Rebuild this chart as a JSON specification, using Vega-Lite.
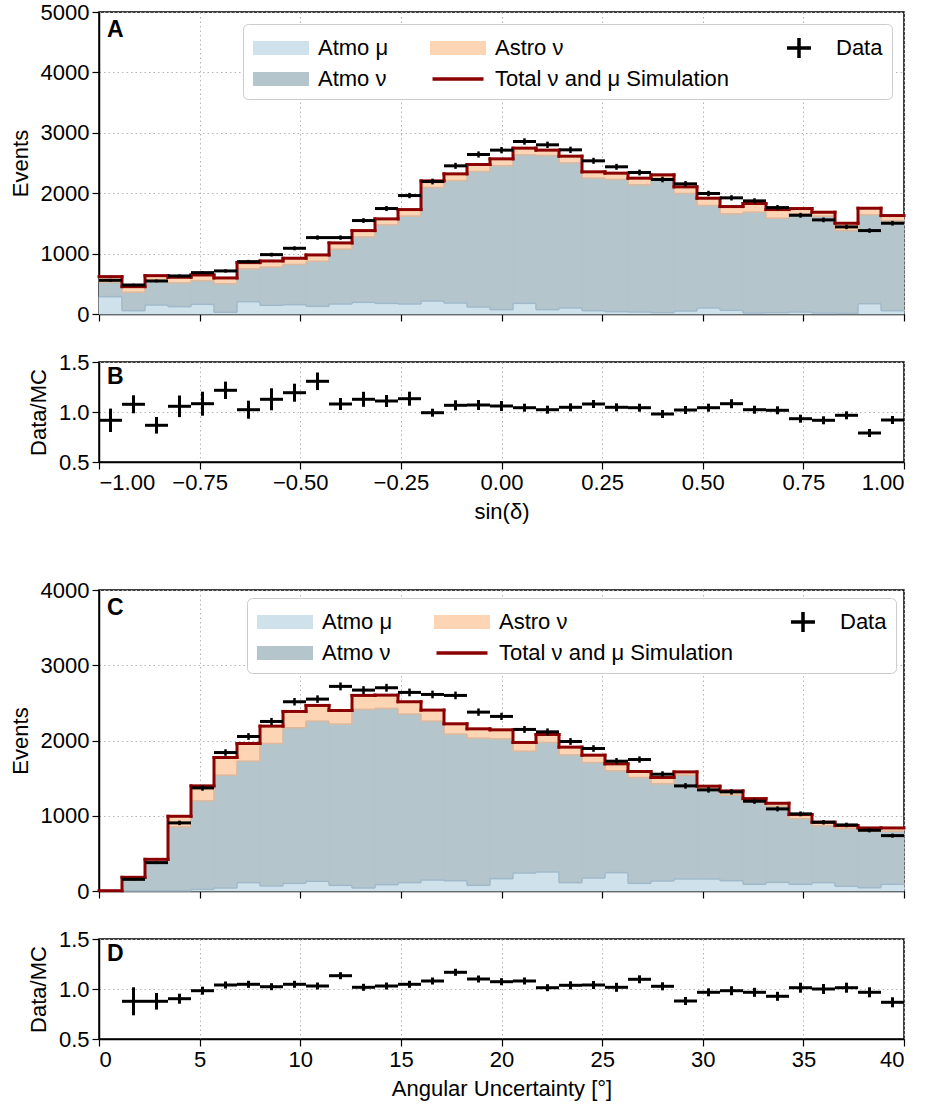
{
"$schema": "https://vega.github.io/schema/vega-lite/v6.json",
"padding": {"left": 8, "top": 0, "right": 5, "bottom": 5},
"config": {
 "font": "Liberation Sans",
 "view": {"stroke": "black", "strokeWidth": 1.5},
 "axis": {"labelFontSize": 22, "titleFontSize": 22, "titleFontWeight": "normal", "labelColor": "black", "titleColor": "black", "domainColor": "black", "tickColor": "black", "tickSize": 7, "tickWidth": 1.2, "domainWidth": 1.5, "gridColor": "#b5b5b5", "gridDash": [1.5, 3], "gridWidth": 1, "labelPadding": 3, "titlePadding": 8, "grid": true}
},
"datasets": {
 "legendItems": [{"series": "Atmo μ"}, {"series": "Atmo ν"}, {"series": "Astro ν"}, {"series": "Total ν and μ Simulation"}, {"series": "Data"}],
 "panelA": [{"label": "A", "x": -1, "y": 5000}],
 "panelB": [{"label": "B", "x": -1, "y": 1.5}],
 "panelC": [{"label": "C", "x": 0, "y": 4000}],
 "panelD": [{"label": "D", "x": 0, "y": 1.5}],
 "sindec": [
  {"lo": -1, "hi": -0.9429, "c": -0.9714, "mu": 287, "atmo": 525, "tot": 619, "d": 558, "de": 24, "r": 0.917, "re": 0.117},
  {"lo": -0.9429, "hi": -0.8857, "c": -0.9143, "mu": 55, "atmo": 359, "tot": 453, "d": 480, "de": 22, "r": 1.077, "re": 0.09},
  {"lo": -0.8857, "hi": -0.8286, "c": -0.8571, "mu": 149, "atmo": 540, "tot": 635, "d": 547, "de": 23, "r": 0.867, "re": 0.083},
  {"lo": -0.8286, "hi": -0.7714, "c": -0.8, "mu": 122, "atmo": 515, "tot": 608, "d": 630, "de": 25, "r": 1.057, "re": 0.108},
  {"lo": -0.7714, "hi": -0.7143, "c": -0.7429, "mu": 160, "atmo": 550, "tot": 646, "d": 685, "de": 26, "r": 1.083, "re": 0.12},
  {"lo": -0.7143, "hi": -0.6571, "c": -0.6857, "mu": 28, "atmo": 500, "tot": 597, "d": 713, "de": 27, "r": 1.217, "re": 0.087},
  {"lo": -0.6571, "hi": -0.6, "c": -0.6286, "mu": 204, "atmo": 746, "tot": 851, "d": 867, "de": 29, "r": 1.023, "re": 0.09},
  {"lo": -0.6, "hi": -0.5429, "c": -0.5714, "mu": 144, "atmo": 775, "tot": 878, "d": 983, "de": 31, "r": 1.127, "re": 0.11},
  {"lo": -0.5429, "hi": -0.4857, "c": -0.5143, "mu": 155, "atmo": 820, "tot": 923, "d": 1088, "de": 33, "r": 1.193, "re": 0.09},
  {"lo": -0.4857, "hi": -0.4286, "c": -0.4571, "mu": 127, "atmo": 873, "tot": 978, "d": 1265, "de": 36, "r": 1.307, "re": 0.088},
  {"lo": -0.4286, "hi": -0.3714, "c": -0.4, "mu": 166, "atmo": 1072, "tot": 1177, "d": 1265, "de": 36, "r": 1.08, "re": 0.06},
  {"lo": -0.3714, "hi": -0.3143, "c": -0.3429, "mu": 193, "atmo": 1276, "tot": 1381, "d": 1547, "de": 39, "r": 1.127, "re": 0.075},
  {"lo": -0.3143, "hi": -0.2571, "c": -0.2857, "mu": 177, "atmo": 1475, "tot": 1575, "d": 1746, "de": 42, "r": 1.11, "re": 0.06},
  {"lo": -0.2571, "hi": -0.2, "c": -0.2286, "mu": 166, "atmo": 1620, "tot": 1729, "d": 1961, "de": 44, "r": 1.133, "re": 0.07},
  {"lo": -0.2, "hi": -0.1429, "c": -0.1714, "mu": 215, "atmo": 2094, "tot": 2204, "d": 2193, "de": 47, "r": 0.993, "re": 0.04},
  {"lo": -0.1429, "hi": -0.0857, "c": -0.1143, "mu": 182, "atmo": 2210, "tot": 2320, "d": 2453, "de": 50, "r": 1.067, "re": 0.05},
  {"lo": -0.0857, "hi": -0.0286, "c": -0.0571, "mu": 116, "atmo": 2359, "tot": 2475, "d": 2641, "de": 51, "r": 1.07, "re": 0.05},
  {"lo": -0.0286, "hi": 0.0286, "c": 0, "mu": 72, "atmo": 2455, "tot": 2569, "d": 2713, "de": 52, "r": 1.06, "re": 0.05},
  {"lo": 0.0286, "hi": 0.0857, "c": 0.0571, "mu": 177, "atmo": 2635, "tot": 2746, "d": 2856, "de": 53, "r": 1.043, "re": 0.04},
  {"lo": 0.0857, "hi": 0.1429, "c": 0.1143, "mu": 72, "atmo": 2624, "tot": 2713, "d": 2801, "de": 53, "r": 1.023, "re": 0.04},
  {"lo": 0.1429, "hi": 0.2, "c": 0.1714, "mu": 100, "atmo": 2503, "tot": 2613, "d": 2718, "de": 52, "r": 1.047, "re": 0.04},
  {"lo": 0.2, "hi": 0.2571, "c": 0.2286, "mu": 55, "atmo": 2249, "tot": 2354, "d": 2536, "de": 50, "r": 1.08, "re": 0.04},
  {"lo": 0.2571, "hi": 0.3143, "c": 0.2857, "mu": 39, "atmo": 2227, "tot": 2332, "d": 2437, "de": 49, "r": 1.047, "re": 0.04},
  {"lo": 0.3143, "hi": 0.3714, "c": 0.3429, "mu": 33, "atmo": 2138, "tot": 2249, "d": 2343, "de": 48, "r": 1.043, "re": 0.04},
  {"lo": 0.3714, "hi": 0.4286, "c": 0.4, "mu": 22, "atmo": 2238, "tot": 2304, "d": 2227, "de": 47, "r": 0.98, "re": 0.04},
  {"lo": 0.4286, "hi": 0.4857, "c": 0.4571, "mu": 50, "atmo": 1995, "tot": 2105, "d": 2155, "de": 46, "r": 1.02, "re": 0.04},
  {"lo": 0.4857, "hi": 0.5429, "c": 0.5143, "mu": 100, "atmo": 1796, "tot": 1917, "d": 1995, "de": 45, "r": 1.043, "re": 0.04},
  {"lo": 0.5429, "hi": 0.6, "c": 0.5714, "mu": 61, "atmo": 1658, "tot": 1779, "d": 1923, "de": 44, "r": 1.083, "re": 0.045},
  {"lo": 0.6, "hi": 0.6571, "c": 0.6286, "mu": 17, "atmo": 1685, "tot": 1829, "d": 1873, "de": 43, "r": 1.023, "re": 0.04},
  {"lo": 0.6571, "hi": 0.7143, "c": 0.6857, "mu": 22, "atmo": 1586, "tot": 1729, "d": 1762, "de": 42, "r": 1.017, "re": 0.04},
  {"lo": 0.7143, "hi": 0.7714, "c": 0.7429, "mu": 33, "atmo": 1658, "tot": 1746, "d": 1635, "de": 40, "r": 0.933, "re": 0.04},
  {"lo": 0.7714, "hi": 0.8286, "c": 0.8, "mu": 17, "atmo": 1619, "tot": 1685, "d": 1558, "de": 39, "r": 0.917, "re": 0.04},
  {"lo": 0.8286, "hi": 0.8857, "c": 0.8571, "mu": 11, "atmo": 1381, "tot": 1503, "d": 1442, "de": 38, "r": 0.967, "re": 0.04},
  {"lo": 0.8857, "hi": 0.9429, "c": 0.9143, "mu": 171, "atmo": 1641, "tot": 1751, "d": 1381, "de": 37, "r": 0.79, "re": 0.04},
  {"lo": 0.9429, "hi": 1, "c": 0.9714, "mu": 55, "atmo": 1541, "tot": 1630, "d": 1503, "de": 39, "r": 0.92, "re": 0.04}
 ],
 "angerr": [
  {"lo": 0, "hi": 1.1429, "c": 0.5714, "mu": 0, "atmo": 0, "tot": 4},
  {"lo": 1.1429, "hi": 2.2857, "c": 1.7143, "mu": 4, "atmo": 150, "tot": 182, "d": 155, "de": 12, "r": 0.877, "re": 0.14},
  {"lo": 2.2857, "hi": 3.4286, "c": 2.8571, "mu": 4, "atmo": 386, "tot": 421, "d": 377, "de": 19, "r": 0.877, "re": 0.083},
  {"lo": 3.4286, "hi": 4.5714, "c": 4, "mu": 4, "atmo": 851, "tot": 993, "d": 905, "de": 30, "r": 0.903, "re": 0.05},
  {"lo": 4.5714, "hi": 5.7143, "c": 5.1429, "mu": 22, "atmo": 1197, "tot": 1397, "d": 1370, "de": 37, "r": 0.983, "re": 0.04},
  {"lo": 5.7143, "hi": 6.8571, "c": 6.2857, "mu": 40, "atmo": 1539, "tot": 1774, "d": 1840, "de": 43, "r": 1.04, "re": 0.035},
  {"lo": 6.8571, "hi": 8, "c": 7.4286, "mu": 111, "atmo": 1725, "tot": 1960, "d": 2053, "de": 45, "r": 1.047, "re": 0.035},
  {"lo": 8, "hi": 9.1429, "c": 8.5714, "mu": 67, "atmo": 1960, "tot": 2191, "d": 2253, "de": 47, "r": 1.023, "re": 0.035},
  {"lo": 9.1429, "hi": 10.2857, "c": 9.7143, "mu": 102, "atmo": 2169, "tot": 2386, "d": 2515, "de": 50, "r": 1.047, "re": 0.035},
  {"lo": 10.2857, "hi": 11.4286, "c": 10.8571, "mu": 129, "atmo": 2257, "tot": 2466, "d": 2550, "de": 50, "r": 1.03, "re": 0.035},
  {"lo": 11.4286, "hi": 12.5714, "c": 12, "mu": 75, "atmo": 2217, "tot": 2399, "d": 2719, "de": 52, "r": 1.133, "re": 0.035},
  {"lo": 12.5714, "hi": 13.7143, "c": 13.1429, "mu": 40, "atmo": 2413, "tot": 2599, "d": 2670, "de": 52, "r": 1.017, "re": 0.035},
  {"lo": 13.7143, "hi": 14.8571, "c": 14.2857, "mu": 84, "atmo": 2426, "tot": 2603, "d": 2701, "de": 52, "r": 1.03, "re": 0.035},
  {"lo": 14.8571, "hi": 16, "c": 15.4286, "mu": 111, "atmo": 2351, "tot": 2515, "d": 2639, "de": 51, "r": 1.047, "re": 0.035},
  {"lo": 16, "hi": 17.1429, "c": 16.5714, "mu": 146, "atmo": 2257, "tot": 2404, "d": 2612, "de": 51, "r": 1.08, "re": 0.035},
  {"lo": 17.1429, "hi": 18.2857, "c": 17.7143, "mu": 137, "atmo": 2084, "tot": 2222, "d": 2599, "de": 51, "r": 1.167, "re": 0.035},
  {"lo": 18.2857, "hi": 19.4286, "c": 18.8571, "mu": 75, "atmo": 2031, "tot": 2155, "d": 2377, "de": 49, "r": 1.1, "re": 0.035},
  {"lo": 19.4286, "hi": 20.5714, "c": 20, "mu": 164, "atmo": 2022, "tot": 2142, "d": 2320, "de": 48, "r": 1.073, "re": 0.035},
  {"lo": 20.5714, "hi": 21.7143, "c": 21.1429, "mu": 239, "atmo": 1858, "tot": 1974, "d": 2147, "de": 46, "r": 1.08, "re": 0.035},
  {"lo": 21.7143, "hi": 22.8571, "c": 22.2857, "mu": 253, "atmo": 1974, "tot": 2080, "d": 2115, "de": 46, "r": 1.013, "re": 0.035},
  {"lo": 22.8571, "hi": 24, "c": 23.4286, "mu": 111, "atmo": 1809, "tot": 1912, "d": 1987, "de": 45, "r": 1.037, "re": 0.04},
  {"lo": 24, "hi": 25.1429, "c": 24.5714, "mu": 173, "atmo": 1707, "tot": 1805, "d": 1894, "de": 44, "r": 1.04, "re": 0.04},
  {"lo": 25.1429, "hi": 26.2857, "c": 25.7143, "mu": 244, "atmo": 1597, "tot": 1690, "d": 1725, "de": 42, "r": 1.017, "re": 0.045},
  {"lo": 26.2857, "hi": 27.4286, "c": 26.8571, "mu": 102, "atmo": 1508, "tot": 1588, "d": 1747, "de": 42, "r": 1.097, "re": 0.04},
  {"lo": 27.4286, "hi": 28.5714, "c": 28, "mu": 133, "atmo": 1424, "tot": 1508, "d": 1552, "de": 39, "r": 1.027, "re": 0.04},
  {"lo": 28.5714, "hi": 29.7143, "c": 29.1429, "mu": 160, "atmo": 1539, "tot": 1583, "d": 1397, "de": 37, "r": 0.88, "re": 0.04},
  {"lo": 29.7143, "hi": 30.8571, "c": 30.2857, "mu": 160, "atmo": 1362, "tot": 1393, "d": 1344, "de": 37, "r": 0.967, "re": 0.04},
  {"lo": 30.8571, "hi": 32, "c": 31.4286, "mu": 137, "atmo": 1273, "tot": 1330, "d": 1317, "de": 36, "r": 0.983, "re": 0.045},
  {"lo": 32, "hi": 33.1429, "c": 32.5714, "mu": 89, "atmo": 1180, "tot": 1228, "d": 1193, "de": 35, "r": 0.967, "re": 0.045},
  {"lo": 33.1429, "hi": 34.2857, "c": 33.7143, "mu": 115, "atmo": 1126, "tot": 1166, "d": 1091, "de": 33, "r": 0.927, "re": 0.045},
  {"lo": 34.2857, "hi": 35.4286, "c": 34.8571, "mu": 89, "atmo": 962, "tot": 1016, "d": 1025, "de": 32, "r": 1.013, "re": 0.05},
  {"lo": 35.4286, "hi": 36.5714, "c": 36, "mu": 111, "atmo": 865, "tot": 914, "d": 914, "de": 30, "r": 1.0, "re": 0.05},
  {"lo": 36.5714, "hi": 37.7143, "c": 37.1429, "mu": 62, "atmo": 829, "tot": 869, "d": 878, "de": 30, "r": 1.013, "re": 0.05},
  {"lo": 37.7143, "hi": 38.8571, "c": 38.2857, "mu": 44, "atmo": 794, "tot": 838, "d": 807, "de": 28, "r": 0.967, "re": 0.05},
  {"lo": 38.8571, "hi": 40, "c": 39.4286, "mu": 89, "atmo": 794, "tot": 838, "d": 736, "de": 27, "r": 0.867, "re": 0.05}
 ]
},
"spacing": 48,
"bounds": "flush",
"resolve": {"scale": {"x": "independent", "y": "independent", "color": "independent", "shape": "independent"}, "legend": {"color": "independent", "shape": "independent"}, "axis": {"x": "independent", "y": "independent"}},
"vconcat": [
 {
  "width": 805, "height": 302,
  "data": {"name": "sindec"},
  "encoding": {"x": {"field": "lo", "type": "quantitative", "scale": {"domain": [-1, 1], "nice": false, "zero": false}, "axis": {"values": [-1, -0.75, -0.5, -0.25, 0, 0.25, 0.5, 0.75, 1], "labels": false, "title": null}}},
  "layer": [
   {"mark": {"type": "rect", "color": "#fdd4b4", "stroke": "#fdd4b4", "strokeWidth": 0.6}, "encoding": {"x2": {"field": "hi"}, "y": {"field": "atmo", "type": "quantitative", "scale": {"domain": [0, 5000], "nice": false}, "axis": {"values": [0, 1000, 2000, 3000, 4000, 5000], "format": "d", "title": "Events"}}, "y2": {"field": "tot"}}},
   {"mark": {"type": "rect", "color": "#b5c5cc", "stroke": "#b5c5cc", "strokeWidth": 0.6}, "encoding": {"x2": {"field": "hi"}, "y": {"field": "atmo", "type": "quantitative"}, "y2": {"datum": 0}}},
   {"mark": {"type": "rect", "color": "#cfe2ec", "stroke": "#cfe2ec", "strokeWidth": 0.6}, "encoding": {"x2": {"field": "hi"}, "y": {"field": "mu", "type": "quantitative"}, "y2": {"datum": 0}}},
   {"mark": {"type": "rule", "color": "#9fb9c9", "strokeWidth": 1.5}, "encoding": {"x2": {"field": "hi"}, "y": {"field": "mu", "type": "quantitative"}}},
   {"transform": [{"window": [{"op": "lag", "field": "mu", "as": "pmu"}], "sort": [{"field": "lo"}]}, {"filter": "isValid(datum.pmu)"}], "mark": {"type": "rule", "color": "#9fb9c9", "strokeWidth": 1.5}, "encoding": {"y": {"field": "pmu", "type": "quantitative"}, "y2": {"field": "mu"}}},
   {"mark": {"type": "rule", "color": "#dcb89c", "strokeWidth": 1.5}, "encoding": {"x2": {"field": "hi"}, "y": {"field": "atmo", "type": "quantitative"}}},
   {"transform": [{"window": [{"op": "lag", "field": "atmo", "as": "patmo"}], "sort": [{"field": "lo"}]}, {"filter": "isValid(datum.patmo)"}], "mark": {"type": "rule", "color": "#dcb89c", "strokeWidth": 1.5}, "encoding": {"y": {"field": "patmo", "type": "quantitative"}, "y2": {"field": "atmo"}}},
   {"mark": {"type": "rule", "color": "#8b0000", "strokeWidth": 3, "strokeCap": "square"}, "encoding": {"x2": {"field": "hi"}, "y": {"field": "tot", "type": "quantitative"}}},
   {"transform": [{"window": [{"op": "lag", "field": "tot", "as": "ptot"}], "sort": [{"field": "lo"}]}, {"filter": "isValid(datum.ptot)"}], "mark": {"type": "rule", "color": "#8b0000", "strokeWidth": 3, "strokeCap": "square"}, "encoding": {"y": {"field": "ptot", "type": "quantitative"}, "y2": {"field": "tot"}}},
   {"mark": {"type": "rule", "color": "black", "strokeWidth": 3}, "encoding": {"x2": {"field": "hi"}, "y": {"field": "d", "type": "quantitative"}}},
   {"mark": {"type": "errorbar", "ticks": false, "thickness": 2.5, "color": "black"}, "encoding": {"x": {"field": "c", "type": "quantitative"}, "y": {"field": "d", "type": "quantitative", "title": "Events"}, "yError": {"field": "de"}}},
   {"data": {"name": "legendItems"}, "mark": {"type": "point", "filled": true, "opacity": 1},
    "encoding": {
     "color": {"field": "series", "type": "nominal", "scale": {"domain": ["Atmo μ", "Atmo ν", "Astro ν", "Total ν and μ Simulation", "Data"], "range": ["#cfe2ec", "#b5c5cc", "#fdd4b4", "#8b0000", "#000000"]},
      "legend": {"title": null, "orient": "top-right", "offset": 12, "columns": 3, "symbolSize": 900, "symbolStrokeWidth": 0, "symbolOpacity": 1, "labelFontSize": 22, "labelOffset": 22, "labelLimit": 400, "columnPadding": 40, "rowPadding": 5, "fillColor": "white", "strokeColor": "#cccccc", "cornerRadius": 5, "padding": 9, "symbolOffset": 14}},
     "shape": {"field": "series", "type": "nominal", "scale": {"domain": ["Atmo μ", "Atmo ν", "Astro ν", "Total ν and μ Simulation", "Data"], "range": ["M-1.87,-0.47H1.87V0.47H-1.87Z", "M-1.87,-0.47H1.87V0.47H-1.87Z", "M-1.87,-0.47H1.87V0.47H-1.87Z", "M-1.7,-0.11H1.7V0.11H-1.7Z", "M-0.117,-0.67H0.117V-0.117H0.8V0.117H0.117V0.67H-0.117V0.117H-0.8V-0.117H-0.117Z"]}}
    }},
   {"data": {"name": "panelA"}, "mark": {"type": "text", "align": "left", "baseline": "top", "dx": 8, "dy": 7, "fontSize": 23, "fontWeight": "bold", "color": "black"}, "encoding": {"x": {"field": "x", "type": "quantitative"}, "y": {"field": "y", "type": "quantitative"}, "text": {"field": "label"}}}
  ]
 },
 {
  "width": 805, "height": 100,
  "data": {"name": "sindec"},
  "encoding": {"x": {"field": "lo", "type": "quantitative", "scale": {"domain": [-1, 1], "nice": false, "zero": false}, "axis": {"values": [-1, -0.75, -0.5, -0.25, 0, 0.25, 0.5, 0.75, 1], "format": ".2f", "title": "sin(δ)"}}},
  "layer": [
   {"data": {"values": [{}]}, "mark": {"type": "rule", "color": "black", "strokeWidth": 3, "strokeDash": [3, 4.5]}, "encoding": {"x": {"datum": -1}, "x2": {"datum": 1}, "y": {"datum": 1}}},
   {"mark": {"type": "rule", "color": "black", "strokeWidth": 3}, "encoding": {"x2": {"field": "hi"}, "y": {"field": "r", "type": "quantitative", "scale": {"domain": [0.5, 1.5], "nice": false, "zero": false}, "axis": {"values": [0.5, 1, 1.5], "format": ".1f", "title": "Data/MC"}}}},
   {"mark": {"type": "errorbar", "ticks": false, "thickness": 3, "color": "black"}, "encoding": {"x": {"field": "c", "type": "quantitative"}, "y": {"field": "r", "type": "quantitative", "title": "Data/MC"}, "yError": {"field": "re"}}},
   {"data": {"name": "panelB"}, "mark": {"type": "text", "align": "left", "baseline": "top", "dx": 8, "dy": 4, "fontSize": 23, "fontWeight": "bold", "color": "black"}, "encoding": {"x": {"field": "x", "type": "quantitative"}, "y": {"field": "y", "type": "quantitative"}, "text": {"field": "label"}}}
  ]
 },
 {
  "width": 805, "height": 32,
  "view": {"stroke": null},
  "data": {"values": [{}]},
  "mark": {"type": "text", "text": ""}
 },
 {
  "width": 805, "height": 301,
  "data": {"name": "angerr"},
  "encoding": {"x": {"field": "lo", "type": "quantitative", "scale": {"domain": [0, 40], "nice": false, "zero": false}, "axis": {"values": [0, 5, 10, 15, 20, 25, 30, 35, 40], "labels": false, "title": null}}},
  "layer": [
   {"mark": {"type": "rect", "color": "#fdd4b4", "stroke": "#fdd4b4", "strokeWidth": 0.6}, "encoding": {"x2": {"field": "hi"}, "y": {"field": "atmo", "type": "quantitative", "scale": {"domain": [0, 4000], "nice": false}, "axis": {"values": [0, 1000, 2000, 3000, 4000], "format": "d", "title": "Events"}}, "y2": {"field": "tot"}}},
   {"mark": {"type": "rect", "color": "#b5c5cc", "stroke": "#b5c5cc", "strokeWidth": 0.6}, "encoding": {"x2": {"field": "hi"}, "y": {"field": "atmo", "type": "quantitative"}, "y2": {"datum": 0}}},
   {"mark": {"type": "rect", "color": "#cfe2ec", "stroke": "#cfe2ec", "strokeWidth": 0.6}, "encoding": {"x2": {"field": "hi"}, "y": {"field": "mu", "type": "quantitative"}, "y2": {"datum": 0}}},
   {"mark": {"type": "rule", "color": "#9fb9c9", "strokeWidth": 1.5}, "encoding": {"x2": {"field": "hi"}, "y": {"field": "mu", "type": "quantitative"}}},
   {"transform": [{"window": [{"op": "lag", "field": "mu", "as": "pmu"}], "sort": [{"field": "lo"}]}, {"filter": "isValid(datum.pmu)"}], "mark": {"type": "rule", "color": "#9fb9c9", "strokeWidth": 1.5}, "encoding": {"y": {"field": "pmu", "type": "quantitative"}, "y2": {"field": "mu"}}},
   {"mark": {"type": "rule", "color": "#dcb89c", "strokeWidth": 1.5}, "encoding": {"x2": {"field": "hi"}, "y": {"field": "atmo", "type": "quantitative"}}},
   {"transform": [{"window": [{"op": "lag", "field": "atmo", "as": "patmo"}], "sort": [{"field": "lo"}]}, {"filter": "isValid(datum.patmo)"}], "mark": {"type": "rule", "color": "#dcb89c", "strokeWidth": 1.5}, "encoding": {"y": {"field": "patmo", "type": "quantitative"}, "y2": {"field": "atmo"}}},
   {"mark": {"type": "rule", "color": "#8b0000", "strokeWidth": 3, "strokeCap": "square"}, "encoding": {"x2": {"field": "hi"}, "y": {"field": "tot", "type": "quantitative"}}},
   {"transform": [{"window": [{"op": "lag", "field": "tot", "as": "ptot"}], "sort": [{"field": "lo"}]}, {"filter": "isValid(datum.ptot)"}], "mark": {"type": "rule", "color": "#8b0000", "strokeWidth": 3, "strokeCap": "square"}, "encoding": {"y": {"field": "ptot", "type": "quantitative"}, "y2": {"field": "tot"}}},
   {"transform": [{"filter": "isValid(datum.d)"}], "mark": {"type": "rule", "color": "black", "strokeWidth": 3}, "encoding": {"x2": {"field": "hi"}, "y": {"field": "d", "type": "quantitative"}}},
   {"transform": [{"filter": "isValid(datum.d)"}], "mark": {"type": "errorbar", "ticks": false, "thickness": 2.5, "color": "black"}, "encoding": {"x": {"field": "c", "type": "quantitative"}, "y": {"field": "d", "type": "quantitative", "title": "Events"}, "yError": {"field": "de"}}},
   {"data": {"name": "legendItems"}, "mark": {"type": "point", "filled": true, "opacity": 1},
    "encoding": {
     "color": {"field": "series", "type": "nominal", "scale": {"domain": ["Atmo μ", "Atmo ν", "Astro ν", "Total ν and μ Simulation", "Data"], "range": ["#cfe2ec", "#b5c5cc", "#fdd4b4", "#8b0000", "#000000"]},
      "legend": {"title": null, "orient": "top-right", "offset": 8, "columns": 3, "symbolSize": 900, "symbolStrokeWidth": 0, "symbolOpacity": 1, "labelFontSize": 22, "labelOffset": 22, "labelLimit": 400, "columnPadding": 40, "rowPadding": 5, "fillColor": "white", "strokeColor": "#cccccc", "cornerRadius": 5, "padding": 9, "symbolOffset": 14}},
     "shape": {"field": "series", "type": "nominal", "scale": {"domain": ["Atmo μ", "Atmo ν", "Astro ν", "Total ν and μ Simulation", "Data"], "range": ["M-1.87,-0.47H1.87V0.47H-1.87Z", "M-1.87,-0.47H1.87V0.47H-1.87Z", "M-1.87,-0.47H1.87V0.47H-1.87Z", "M-1.7,-0.11H1.7V0.11H-1.7Z", "M-0.117,-0.67H0.117V-0.117H0.8V0.117H0.117V0.67H-0.117V0.117H-0.8V-0.117H-0.117Z"]}}
    }},
   {"data": {"name": "panelC"}, "mark": {"type": "text", "align": "left", "baseline": "top", "dx": 8, "dy": 7, "fontSize": 23, "fontWeight": "bold", "color": "black"}, "encoding": {"x": {"field": "x", "type": "quantitative"}, "y": {"field": "y", "type": "quantitative"}, "text": {"field": "label"}}}
  ]
 },
 {
  "width": 805, "height": 100,
  "data": {"name": "angerr"},
  "encoding": {"x": {"field": "lo", "type": "quantitative", "scale": {"domain": [0, 40], "nice": false, "zero": false}, "axis": {"values": [0, 5, 10, 15, 20, 25, 30, 35, 40], "format": "d", "title": "Angular Uncertainty [°]"}}},
  "layer": [
   {"data": {"values": [{}]}, "mark": {"type": "rule", "color": "black", "strokeWidth": 3, "strokeDash": [3, 4.5]}, "encoding": {"x": {"datum": 0}, "x2": {"datum": 40}, "y": {"datum": 1}}},
   {"transform": [{"filter": "isValid(datum.r)"}], "mark": {"type": "rule", "color": "black", "strokeWidth": 3}, "encoding": {"x2": {"field": "hi"}, "y": {"field": "r", "type": "quantitative", "scale": {"domain": [0.5, 1.5], "nice": false, "zero": false}, "axis": {"values": [0.5, 1, 1.5], "format": ".1f", "title": "Data/MC"}}}},
   {"transform": [{"filter": "isValid(datum.r)"}], "mark": {"type": "errorbar", "ticks": false, "thickness": 3, "color": "black"}, "encoding": {"x": {"field": "c", "type": "quantitative"}, "y": {"field": "r", "type": "quantitative", "title": "Data/MC"}, "yError": {"field": "re"}}},
   {"data": {"name": "panelD"}, "mark": {"type": "text", "align": "left", "baseline": "top", "dx": 8, "dy": 4, "fontSize": 23, "fontWeight": "bold", "color": "black"}, "encoding": {"x": {"field": "x", "type": "quantitative"}, "y": {"field": "y", "type": "quantitative"}, "text": {"field": "label"}}}
  ]
 }
]
}
